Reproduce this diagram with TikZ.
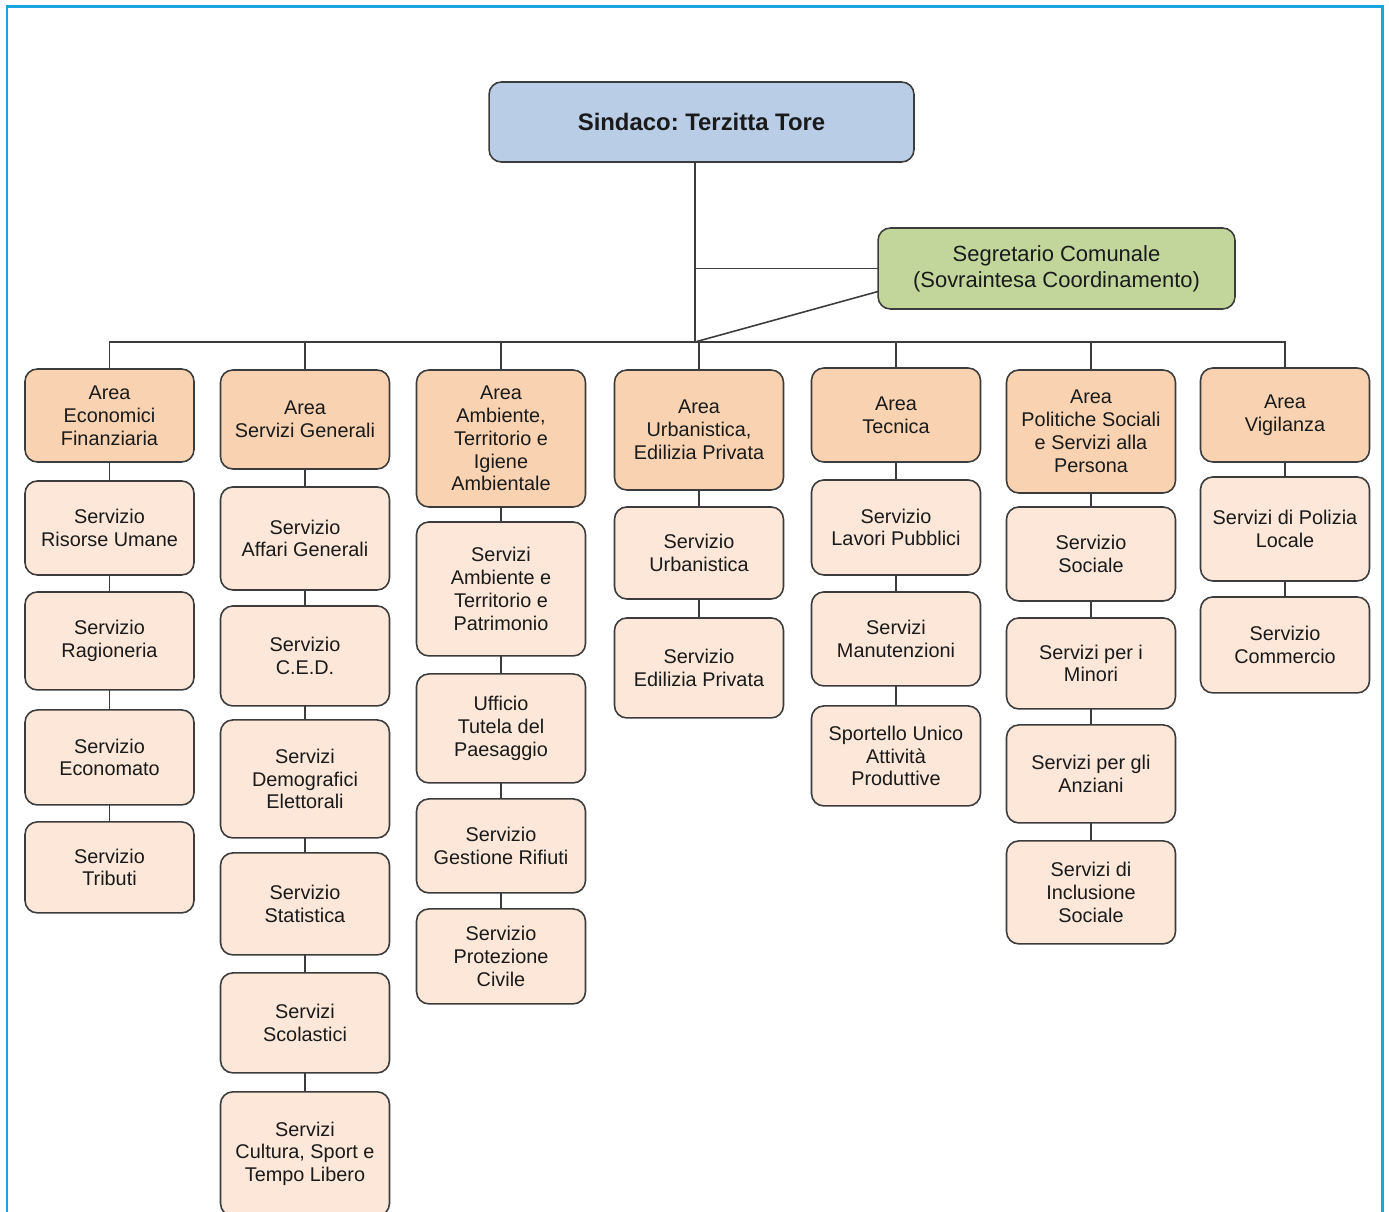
\documentclass[tikz,border=0pt]{standalone}
\usepackage{fontspec}
\setmainfont{Liberation Sans}
\frenchspacing
\usetikzlibrary{positioning}
\definecolor{orgFrame}{HTML}{1AA3E0}
\definecolor{orgLine}{HTML}{3C3C3C}
\definecolor{orgText}{HTML}{1A1A1A}
\definecolor{orgBlue}{HTML}{B9CDE6}
\definecolor{orgGreen}{HTML}{C2D69B}
\definecolor{orgArea}{HTML}{F9D3B1}
\definecolor{orgServ}{HTML}{FCE7D9}
\tikzset{
  orgnode/.style={
    draw=orgLine, line width=0.9pt, rounded corners=7pt, align=center,
    inner sep=2pt, outer sep=0pt, text=orgText
  },
  capo/.style={orgnode, fill=orgBlue, minimum width=8.5cm, minimum height=1.6cm,
    font=\fontsize{13.6}{16}\selectfont\bfseries},
  segr/.style={orgnode, fill=orgGreen, minimum width=7.14cm, minimum height=1.62cm,
    font=\fontsize{12.5}{14.7}\selectfont},
  areabox/.style={orgnode, fill=orgArea, minimum width=3.38cm,
    font=\fontsize{11.3}{13}\selectfont},
  servbox/.style={orgnode, fill=orgServ, minimum width=3.38cm,
    font=\fontsize{11.3}{13}\selectfont},
  link/.style={line width=0.9pt, orgLine},
  cornice/.style={draw=orgFrame, line width=1.7pt}
}
\begin{document}
\begin{tikzpicture}[x=0.02cm, y=-0.02cm, node distance=0.34cm]
  \useasboundingbox (0,0) rectangle (1389,1212);
  \draw[cornice] (7,7) rectangle (1382,1240);

  \node[capo] (sindaco) at (701.5,122) {Sindaco: Terzitta Tore};
  \node[segr] (segr) at (1056.5,268.5) {Segretario Comunale\\(Sovraintesa Coordinamento)};
  \coordinate (bus) at (695,342);

  % aree
  \node[areabox, minimum height=1.86cm] (a1) at (109.5,415.5) {Area\\Economici\\Finanziaria};
  \node[areabox, minimum height=1.98cm] (a2) at (305,419.5) {Area\\Servizi Generali};
  \node[areabox, minimum height=2.74cm] (a3) at (501,438.5) {Area\\Ambiente,\\Territorio e\\Igiene\\Ambientale};
  \node[areabox, minimum height=2.40cm] (a4) at (699,430) {Area\\Urbanistica,\\Edilizia Privata};
  \node[areabox, minimum height=1.88cm] (a5) at (896,415) {Area\\Tecnica};
  \node[areabox, minimum height=2.46cm] (a6) at (1091,431.5) {Area\\Politiche Sociali\\e Servizi alla\\Persona};
  \node[areabox, minimum height=1.88cm] (a7) at (1285,415) {Area\\Vigilanza};

  % servizi
  \node[servbox, minimum height=1.88cm, below=0.38cm of a1] (s11) {Servizio\\Risorse Umane};
  \node[servbox, minimum height=1.96cm, below=of s11] (s12) {Servizio\\Ragioneria};
  \node[servbox, minimum height=1.90cm, below=0.40cm of s12] (s13) {Servizio\\Economato};
  \node[servbox, minimum height=1.82cm, below=of s13] (s14) {Servizio\\Tributi};

  \node[servbox, minimum height=2.06cm, below=0.36cm of a2] (s21) {Servizio\\Affari Generali};
  \node[servbox, minimum height=2.00cm, below=0.32cm of s21] (s22) {Servizio\\C.E.D.};
  \node[servbox, minimum height=2.36cm, below=0.28cm of s22] (s23) {Servizi\\Demografici\\Elettorali};
  \node[servbox, minimum height=2.04cm, below=0.30cm of s23] (s24) {Servizio\\Statistica};
  \node[servbox, minimum height=2.00cm, below=0.36cm of s24] (s25) {Servizi\\Scolastici};
  \node[servbox, minimum height=2.48cm, below=0.38cm of s25] (s26) {Servizi\\Cultura, Sport e\\Tempo Libero};

  \node[servbox, minimum height=2.68cm, below=0.30cm of a3] (s31) {Servizi\\Ambiente e\\Territorio e\\Patrimonio};
  \node[servbox, minimum height=2.18cm, below=0.36cm of s31] (s32) {Ufficio\\Tutela del\\Paesaggio};
  \node[servbox, minimum height=1.88cm, below=0.32cm of s32] (s33) {Servizio\\Gestione Rifiuti};
  \node[servbox, minimum height=1.90cm, below=0.32cm of s33] (s34) {Servizio\\Protezione\\Civile};

  \node[servbox, minimum height=1.84cm, below=of a4] (s41) {Servizio\\Urbanistica};
  \node[servbox, minimum height=2.00cm, below=0.38cm of s41] (s42) {Servizio\\Edilizia Privata};

  \node[servbox, minimum height=1.90cm, below=0.36cm of a5] (s51) {Servizio\\Lavori Pubblici};
  \node[servbox, minimum height=1.88cm, below=of s51] (s52) {Servizi\\Manutenzioni};
  \node[servbox, minimum height=2.00cm, below=0.40cm of s52] (s53) {Sportello Unico\\Attività\\Produttive};

  \node[servbox, minimum height=1.88cm, below=0.28cm of a6] (s61) {Servizio\\Sociale};
  \node[servbox, minimum height=1.82cm, below=of s61] (s62) {Servizi per i\\Minori};
  \node[servbox, minimum height=1.96cm, below=0.32cm of s62] (s63) {Servizi per gli\\Anziani};
  \node[servbox, minimum height=2.06cm, below=0.36cm of s63] (s64) {Servizi di\\Inclusione\\Sociale};

  \node[servbox, minimum height=2.08cm, below=0.30cm of a7] (s71) {Servizi di Polizia\\Locale};
  \node[servbox, minimum height=1.92cm, below=0.32cm of s71] (s72) {Servizio\\Commercio};

  % collegamenti
  \draw[link] (bus |- sindaco.south) -- (bus);
  \draw[link] (segr.west -| bus) -- (segr.west);
  \draw[link] (bus) -- ([yshift=-0.46cm]segr.west);
  \foreach \i in {1,...,7}
    \draw[link] (bus) -| (a\i.north);
  \foreach \u/\v in {a1/s11, s11/s12, s12/s13, s13/s14,
                     a2/s21, s21/s22, s22/s23, s23/s24, s24/s25, s25/s26,
                     a3/s31, s31/s32, s32/s33, s33/s34,
                     a4/s41, s41/s42,
                     a5/s51, s51/s52, s52/s53,
                     a6/s61, s61/s62, s62/s63, s63/s64,
                     a7/s71, s71/s72}
    \draw[link] (\u) -- (\v);
\end{tikzpicture}
\end{document}
